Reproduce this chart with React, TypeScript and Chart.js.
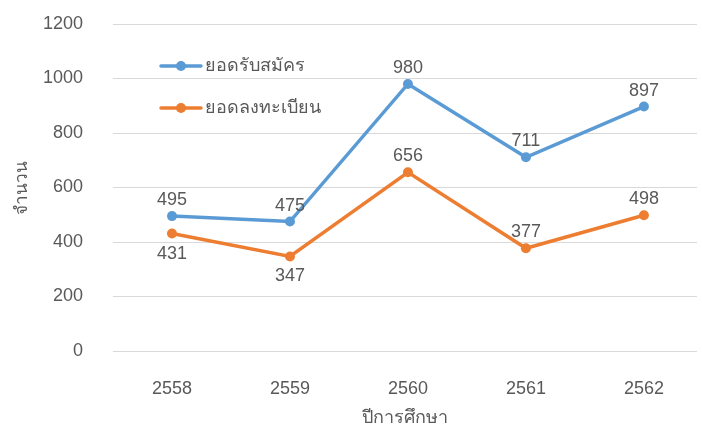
import React, { useEffect, useRef } from "react";
import { Chart, registerables } from "chart.js";

Chart.register(...registerables);

const categories = ["2558", "2559", "2560", "2561", "2562"];
const applicants = [495, 475, 980, 711, 897];
const registered = [431, 347, 656, 377, 498];
const seriesNames = ["ยอดรับสมัคร", "ยอดลงทะเบียน"];
const labelBelow = [
  [false, false, false, false, false],
  [true, true, false, false, false],
];
const yTitle = "จำนวน";
const xTitle = "ปีการศึกษา";

const FONT = "'Liberation Sans', Arial, sans-serif";
const TEXT = "#595959";
const BLUE = "#5B9BD5";
const ORANGE = "#ED7D31";

const overlayPlugin = {
  id: "overlay",
  afterDatasetsDraw(chart: any) {
    const ctx = chart.ctx;
    ctx.save();
    ctx.font = `18px ${FONT}`;
    ctx.fillStyle = TEXT;
    ctx.textAlign = "center";
    ctx.textBaseline = "alphabetic";
    chart.data.datasets.forEach((ds: any, di: number) => {
      const meta = chart.getDatasetMeta(di);
      meta.data.forEach((pt: any, i: number) => {
        const below = labelBelow[di][i];
        ctx.fillText(String(ds.data[i].y), pt.x, below ? pt.y + 25 : pt.y - 11);
      });
    });
    // legend
    const items = [
      { name: seriesNames[0], color: BLUE, y: 66 },
      { name: seriesNames[1], color: ORANGE, y: 108 },
    ];
    items.forEach((it) => {
      ctx.strokeStyle = it.color;
      ctx.lineWidth = 3.5;
      ctx.lineCap = "round";
      ctx.beginPath();
      ctx.moveTo(161, it.y);
      ctx.lineTo(201, it.y);
      ctx.stroke();
      ctx.fillStyle = it.color;
      ctx.beginPath();
      ctx.arc(181, it.y, 5, 0, Math.PI * 2);
      ctx.fill();
      ctx.fillStyle = TEXT;
      ctx.textAlign = "left";
      ctx.textBaseline = "middle";
      ctx.fillText(it.name, 205, it.y);
    });
    ctx.restore();
  },
};

export default function App() {
  const ref = useRef<HTMLCanvasElement>(null);
  useEffect(() => {
    const canvas = ref.current!;
    const mk = (vals: number[]) => vals.map((v, i) => ({ x: i, y: v }));
    const chart = new Chart(canvas, {
      type: "line",
      data: {
        datasets: [
          {
            label: seriesNames[0],
            data: mk(applicants),
            borderColor: BLUE,
            backgroundColor: BLUE,
            borderWidth: 3.5,
            pointRadius: 5,
            pointBorderWidth: 0,
            pointHoverRadius: 5,
          },
          {
            label: seriesNames[1],
            data: mk(registered),
            borderColor: ORANGE,
            backgroundColor: ORANGE,
            borderWidth: 3.5,
            pointRadius: 5,
            pointBorderWidth: 0,
            pointHoverRadius: 5,
          },
        ],
      },
      options: {
        responsive: false,
        animation: false,
        events: [],
        layout: { padding: { top: 24, left: 0, right: 0, bottom: 0 } },
        plugins: { legend: { display: false }, tooltip: { enabled: false } },
        scales: {
          x: {
            type: "linear",
            min: -0.5,
            max: 4.45,
            afterBuildTicks: (scale: any) => {
              scale.ticks = categories.map((_, i) => ({ value: i }));
            },
            afterFit: (scale: any) => {
              scale.height = 79;
              scale.paddingLeft = 0;
              scale.paddingRight = 0;
            },
            ticks: {
              autoSkip: false,
              maxRotation: 0,
              padding: 27,
              color: TEXT,
              font: { family: FONT, size: 18 },
              callback: (v: any) => categories[v] ?? "",
            },
            grid: { display: false, drawTicks: false },
            border: { display: false },
            title: {
              display: true,
              text: xTitle,
              color: TEXT,
              font: { family: FONT, size: 18 },
              padding: { top: 0, bottom: 1 },
            },
          },
          y: {
            min: 0,
            max: 1200,
            afterFit: (scale: any) => {
              scale.width = 113;
              scale.paddingTop = 0;
              scale.paddingBottom = 0;
            },
            ticks: {
              stepSize: 200,
              padding: 30,
              color: TEXT,
              font: { family: FONT, size: 18 },
              callback: (v: any) => String(v),
            },
            grid: { color: "#D9D9D9", lineWidth: 1, drawTicks: false },
            border: { display: false },
            title: {
              display: true,
              text: yTitle,
              color: TEXT,
              font: { family: FONT, size: 17 },
              padding: { top: 12, bottom: 0 },
            },
          },
        },
      },
      plugins: [overlayPlugin],
    });
    return () => chart.destroy();
  }, []);
  return (
    <div style={{ position: "fixed", left: 0, top: 0, width: 702, height: 430, background: "#fff" }}>
      <canvas ref={ref} width={702} height={430} />
    </div>
  );
}
